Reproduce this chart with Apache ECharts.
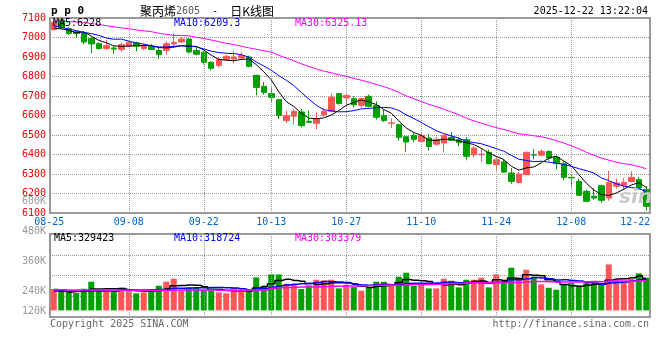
<!DOCTYPE html>
<html><head><meta charset="utf-8">
<script src="https://cdn.jsdelivr.net/npm/echarts@6/dist/echarts.min.js"></script>
<style>html,body{margin:0;padding:0;background:#fff}#c{width:660px;height:360px}</style>
</head><body><div id="c"></div>
<script>
// ---- data ----
const dates = ['08-25','08-26','08-27','08-28','08-29','09-01','09-02','09-03','09-04','09-05',
'09-08','09-09','09-10','09-11','09-12','09-15','09-16','09-17','09-18','09-19',
'09-22','09-23','09-24','09-25','09-26','09-29','09-30','10-09','10-10','10-13',
'10-14','10-15','10-16','10-17','10-20','10-21','10-22','10-23','10-24','10-27',
'10-28','10-29','10-30','10-31','11-03','11-04','11-05','11-06','11-07','11-10',
'11-11','11-12','11-13','11-14','11-17','11-18','11-19','11-20','11-21','11-24',
'11-25','11-26','11-27','11-28','12-01','12-02','12-03','12-04','12-05','12-08',
'12-09','12-10','12-11','12-12','12-15','12-16','12-17','12-18','12-19','12-22'];
const opens = [7040,7090,7045,7032,7023,6994,6968,6943,6946,6939,
6955,6972,6943,6953,6934,6934,6967,6977,6992,6934,
6924,6873,6857,6886,6890,6895,6900,6806,6750,6712,
6681,6574,6596,6618,6570,6560,6604,6621,6712,6690,
6686,6652,6698,6652,6599,6560,6553,6491,6498,6467,
6484,6453,6459,6488,6476,6476,6399,6399,6411,6348,
6362,6305,6256,6297,6399,6396,6416,6386,6353,6283,
6262,6211,6186,6240,6177,6237,6242,6262,6271,6220];
const closes = [7078,7050,7020,7021,6977,6967,6943,6958,6941,6963,
6975,6955,6960,6939,6912,6968,6975,6992,6926,6914,
6873,6842,6886,6903,6900,6907,6852,6744,6719,6693,
6601,6599,6621,6548,6565,6584,6621,6693,6661,6703,
6655,6686,6647,6591,6574,6562,6488,6464,6478,6498,
6441,6478,6498,6473,6461,6391,6433,6402,6353,6373,
6310,6262,6300,6411,6397,6416,6382,6353,6283,6280,
6191,6160,6177,6165,6257,6254,6257,6283,6228,6134];
const lows = [7035,7045,7014,6997,6967,6920,6938,6938,6915,6926,
6950,6929,6936,6936,6890,6912,6946,6972,6917,6909,
6861,6832,6847,6883,6869,6883,6847,6703,6707,6669,
6582,6562,6553,6539,6562,6528,6596,6618,6656,6652,
6642,6638,6642,6579,6567,6536,6471,6413,6464,6459,
6420,6445,6411,6471,6442,6370,6387,6362,6353,6314,
6307,6250,6252,6293,6374,6391,6368,6322,6268,6232,
6189,6157,6167,6151,6163,6225,6220,6257,6220,6112];
const highs = [7086,7098,7052,7035,7028,7001,6975,6989,6955,6975,
6980,6979,6968,6967,6946,6980,7020,7001,6997,6946,
6932,6878,6900,6912,6932,6924,6907,6809,6772,6744,
6686,6625,6633,6633,6625,6616,6638,6712,6715,6712,
6698,6693,6707,6673,6630,6584,6556,6491,6510,6510,
6507,6490,6502,6515,6490,6490,6442,6430,6425,6390,
6373,6331,6310,6416,6428,6425,6421,6392,6365,6296,
6276,6220,6228,6245,6317,6276,6279,6314,6285,6237];
const volumes = [220000,206000,195700,178500,223200,295300,208000,206000,188800,233500,
202600,175100,185400,206000,254100,295300,326200,202600,233500,240300,
212900,206000,185400,175100,233500,206000,202600,339900,254100,370800,
370800,274700,267800,219700,257500,315900,309000,315900,226600,264400,
240300,202600,240300,295300,295300,264400,346800,388000,254100,278100,
226600,226600,326200,305600,236900,315900,315900,336500,236900,370800,
285000,439500,315900,418900,346800,267800,233500,212900,267800,281500,
247200,281500,274700,281500,473800,309000,295300,322700,381100,336500];
// moving-average values before the window starts
const ma5Head = [7049,7044,7037,7023];
const ma10Head = [7061,7052,7044,7035,7026,7020,7011,6997,6991];
const ma30Head = [7085,7084,7082,7080,7078,7071,7067,7061,7055,7049,7045,7039,7034,7030,7022,
7016,7011,7010,7009,7001,6995,6987,6979,6970,6964,6955,6947,6940,6932];
const vma5Head = [215000,200000,190000,195000];
const vma10Head = [200000,199000,198000,196000,197000,199000,201000,200000,196000];
const vma30Head = [212000,212000,211000,211000,210000,210000,210000,209000,209000,208000,
208000,207000,207000,207000,207000,208000,208000,209000,209000,209000,
209000,209000,208000,208000,208000,208000,209000,209000,210000];
const dateTicks = ['08-25','09-08','09-22','10-13','10-27','11-10','11-24','12-08','12-22'];
const gridDates = ['09-08','09-22','10-13','10-27','11-10','11-24','12-08'];
const priceMin = 6100, priceMax = 7100, priceStep = 100;
const volLabelMin = 120000, volLabelMax = 600000, volLabelStep = 120000;
const volMin = -68000, volMax = 787000;
const titleName = '聚丙烯', titleCode = '2605', titleKind = '日K线图';
const timeStamp = '2025-12-22 13:22:04';
const priceLegend = ['MA5:6228', 'MA10:6209.3', 'MA30:6325.13'];
const volLegend = ['MA5:329423', 'MA10:318724', 'MA30:303379'];

// ---- build ----
function movingAvg(values, n, head) {
  return values.map((v, i) => {
    if (i < n - 1) return head[i];
    let s = 0; for (let k = i - n + 1; k <= i; k++) s += values[k];
    return +(s / n).toFixed(2);
  });
}
const UP = '#ff5555', DOWN = '#00a000';
const MONO = '"DejaVu Sans Mono", "Liberation Mono", monospace';
const kData = opens.map((o, i) => [o, closes[i], lows[i], highs[i]]);
const volData = volumes.map((v, i) => ({ value: v, itemStyle: { color: closes[i] >= opens[i] ? UP : DOWN } }));
const dotted = { color: '#9a9a9a', width: 1, type: [1, 1] };
const vLines = {
  silent: true, symbol: 'none', label: { show: false },
  lineStyle: dotted, emphasis: { disabled: true },
  data: gridDates.map(d => ({ xAxis: d })), animation: false
};
function maLine(name, data, color, xi, yi, step, w) {
  return { name, type: 'line', data, xAxisIndex: xi, yAxisIndex: yi, symbol: 'none',
    step: step || false, lineStyle: { color, width: w || 1 }, itemStyle: { color },
    silent: true, z: 5 };
}
function txt(text, x, y, fill, font, align) {
  return { type: 'text', x, y, silent: true, z: 100,
    style: { text, fill, font, align: align || 'left', verticalAlign: 'middle',
             textAlign: align || 'left', textVerticalAlign: 'middle' } };
}
const chart = echarts.init(document.getElementById('c'), null, { renderer: 'canvas' });
chart.setOption({
  animation: false,
  backgroundColor: '#fff',
  grid: [
    { left: 50, top: 18, width: 600, height: 195, show: true, borderColor: '#999', borderWidth: 2, backgroundColor: 'transparent' },
    { left: 50, top: 234, width: 600, height: 83, show: true, borderColor: '#999', borderWidth: 2, backgroundColor: 'transparent' },
    { left: 50, top: 201, width: 600, height: 120, show: false }
  ],
  xAxis: [
    { type: 'category', gridIndex: 0, data: dates, boundaryGap: true,
      axisLine: { show: false }, axisTick: { show: false }, splitLine: { show: false },
      axisLabel: {
        interval: (idx, val) => dateTicks.includes(val),
        margin: 4, color: '#0066cc', fontFamily: MONO, fontSize: 10,
        formatter: v => v === dateTicks[0] ? '{f|' + v + '}' : (v === dateTicks[dateTicks.length - 1] ? '{l|' + v + '}' : '{n|' + v + '}'),
        rich: {
          n: { fontFamily: MONO, fontSize: 10, color: '#0066cc' },
          f: { fontFamily: MONO, fontSize: 10, color: '#0066cc', padding: [0, 9, 0, 0] },
          l: { fontFamily: MONO, fontSize: 10, color: '#0066cc', padding: [0, 22, 0, 0] }
        }
      } },
    { type: 'category', gridIndex: 1, data: dates, boundaryGap: true,
      axisLine: { show: false }, axisTick: { show: false }, splitLine: { show: false }, axisLabel: { show: false } },
    { type: 'value', gridIndex: 2, show: false, min: 0, max: 1 }
  ],
  yAxis: [
    { type: 'value', gridIndex: 0, min: priceMin, max: priceMax, interval: priceStep, scale: true,
      axisLine: { show: false }, axisTick: { show: false },
      splitLine: { show: true, lineStyle: dotted },
      axisLabel: { color: '#ee0000', fontFamily: MONO, fontSize: 10, margin: 4, padding: [0, 0, 3, 0],
        formatter: v => String(v) } },
    { type: 'value', gridIndex: 1, min: volMin, max: volMax, show: false, splitLine: { show: false } },
    { type: 'value', gridIndex: 1, min: 0, max: 4, interval: 1,
      axisLine: { show: false }, axisTick: { show: false }, axisLabel: { show: false },
      splitLine: { show: true, lineStyle: dotted } },
    { type: 'value', gridIndex: 2, min: volLabelMin, max: volLabelMax, interval: volLabelStep,
      axisLine: { show: false }, axisTick: { show: false }, splitLine: { show: false },
      axisLabel: { margin: 4, color: '#999', fontFamily: MONO, fontSize: 10,
        formatter: v => v === volLabelMin ? '{u|' + (v / 1000) + 'K}' : '{n|' + (v / 1000) + 'K}',
        rich: {
          n: { fontFamily: MONO, fontSize: 10, color: '#999' },
          u: { fontFamily: MONO, fontSize: 10, color: '#999', padding: [0, 0, 20, 0] }
        } } }
  ],
  series: [
    { name: 'K', type: 'candlestick', xAxisIndex: 0, yAxisIndex: 0, data: kData, barWidth: 6,
      itemStyle: { color: UP, color0: DOWN, borderColor: UP, borderColor0: DOWN, borderWidth: 1 },
      markLine: vLines, silent: true, z: 3 },
    maLine('MA5', movingAvg(closes, 5, ma5Head), '#000000', 0, 0),
    maLine('MA10', movingAvg(closes, 10, ma10Head), '#0000ff', 0, 0),
    maLine('MA30', movingAvg(closes, 30, ma30Head), '#ff00ff', 0, 0),
    { name: 'VOL', type: 'bar', xAxisIndex: 1, yAxisIndex: 1, data: volData, barWidth: 6,
      markLine: vLines, silent: true, z: 3 },
    maLine('VMA5', movingAvg(volumes, 5, vma5Head), '#000000', 1, 1, 'middle', 1.5),
    maLine('VMA10', movingAvg(volumes, 10, vma10Head), '#0000ff', 1, 1, 'middle', 1.5),
    maLine('VMA30', movingAvg(volumes, 30, vma30Head), '#ff00ff', 1, 1, 'middle', 1.5)
  ],
  graphic: [
    txt('p p 0', 51, 11, '#000', 'bold 11px ' + MONO),
    { type: 'text', x: 140, y: 11, silent: true, z: 100,
      style: { text: '{cn|' + titleName + '}{num|' + titleCode + '}{mono|  -  }{cn|' + titleKind + '}',
        verticalAlign: 'middle', textVerticalAlign: 'middle',
        rich: {
          cn: { fontFamily: '"Noto Sans CJK SC"', fontSize: 12, fill: '#000', color: '#000' },
          num: { fontFamily: MONO, fontSize: 10, fill: '#555', color: '#555' },
          mono: { fontFamily: MONO, fontSize: 10, fill: '#000', color: '#000' }
        } } },
    txt(timeStamp, 648, 11.5, '#000', '10px ' + MONO, 'right'),
    txt(priceLegend[0], 53, 23, '#000', '10px ' + MONO),
    txt(priceLegend[1], 174, 23, '#0000ff', '10px ' + MONO),
    txt(priceLegend[2], 295, 23, '#ff00ff', '10px ' + MONO),
    txt(volLegend[0], 54, 238, '#000', '10px ' + MONO),
    txt(volLegend[1], 174, 238, '#0000ff', '10px ' + MONO),
    txt(volLegend[2], 295, 238, '#ff00ff', '10px ' + MONO),
    txt('Copyright 2025 SINA.COM', 50, 324, '#666', '10px ' + MONO),
    txt('http://finance.sina.com.cn', 649, 324, '#666', '10px ' + MONO, 'right'),
    txt('sin', 619, 198, '#c8c8c8', 'italic bold 20px "DejaVu Sans"')
  ]
});
</script></body></html>
